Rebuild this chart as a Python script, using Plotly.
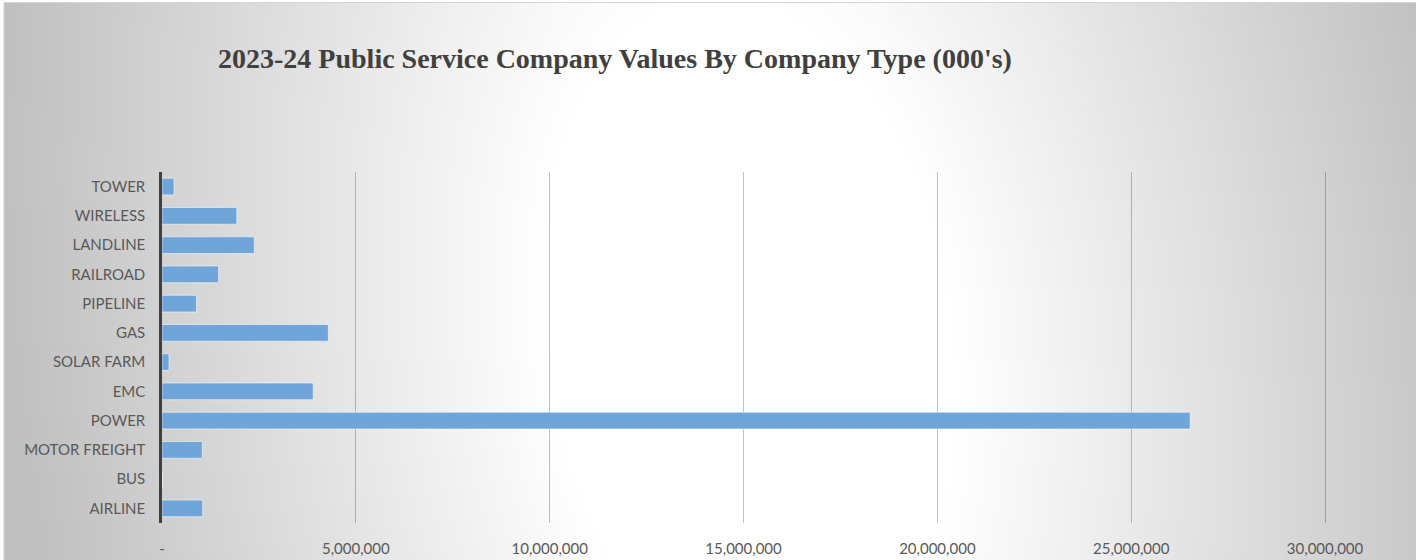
import base64
import plotly.graph_objects as go

categories = ["AIRLINE", "BUS", "MOTOR FREIGHT", "POWER", "EMC", "SOLAR FARM",
              "GAS", "PIPELINE", "RAILROAD", "LANDLINE", "WIRELESS", "TOWER"]
values = [1050000, 0, 1040000, 26520000, 3900000, 180000,
          4290000, 890000, 1460000, 2380000, 1930000, 310000]
tick_vals = [0, 5000000, 10000000, 15000000, 20000000, 25000000, 30000000]
tick_text = ["-", "5,000,000", "10,000,000", "15,000,000", "20,000,000", "25,000,000", "30,000,000"]
title_text = "2023-24 Public Service Company Values By Company Type (000's)"

W, H = 1416, 560
L, R, T, B = 162, W - 1327, 172, H - 523
pw, ph = W - L - R, H - T - B

cx, cy = 750, 340
svg = f'''<svg xmlns="http://www.w3.org/2000/svg" width="{W}" height="{H}" viewBox="0 0 {W} {H}" preserveAspectRatio="none">
<defs><radialGradient id="g" gradientUnits="userSpaceOnUse" cx="{cx}" cy="{cy}" r="740"
 gradientTransform="translate({cx},{cy}) rotate(-8) scale(1,1.7) translate({-cx},{-cy})">
<stop offset="0" stop-color="#ffffff"/><stop offset="0.27" stop-color="#ffffff"/>
<stop offset="1" stop-color="#bfbfbf"/></radialGradient></defs>
<rect x="0" y="0" width="{W}" height="{H}" fill="#ffffff"/>
<rect x="4" y="2.5" width="{W}" height="{H}" fill="url(#g)" stroke="#d4d4d4" stroke-width="1"/>
</svg>'''
src = "data:image/svg+xml;base64," + base64.b64encode(svg.encode()).decode()

fig = go.Figure(go.Bar(
    x=values, y=categories, orientation="h",
    marker=dict(color="#6fa5d8", line=dict(color="rgba(255,255,255,0.55)", width=1)),
))

fig.update_layout(
    width=W, height=H,
    margin=dict(l=L, r=R, t=T, b=B, autoexpand=False),
    paper_bgcolor="rgba(0,0,0,0)", plot_bgcolor="rgba(0,0,0,0)",
    bargap=0.43, showlegend=False,
    title=dict(text="<b>" + title_text + "</b>", xref="container", yref="container",
               x=615 / W, xanchor="center", y=1 - 58 / H, yanchor="middle",
               font=dict(family="Liberation Serif", size=28, color="#404040")),
    images=[dict(source=src, xref="paper", yref="paper", x=-L / pw, y=1 + T / ph,
                 sizex=W / pw, sizey=H / ph, xanchor="left", yanchor="top",
                 sizing="stretch", layer="below")],
    xaxis=dict(range=[0, 30050000], tickvals=tick_vals, ticktext=tick_text,
               showgrid=True, gridcolor="rgba(0,0,0,0.24)", gridwidth=1,
               zeroline=False, showline=False, ticks="", ticklabelstandoff=15,
               automargin=False,
               tickfont=dict(family="Lato", size=15, color="#595959"), fixedrange=True),
    yaxis=dict(type="category", categoryorder="array", categoryarray=categories,
               showgrid=False, zeroline=False, showline=True, linecolor="#404040",
               linewidth=2.5, ticks="", ticklabelstandoff=11, automargin=False,
               tickfont=dict(family="Lato", size=15, color="#595959"), fixedrange=True),
)

fig.write_html("out.html", config={"displayModeBar": False},
               post_script="document.body.style.margin='0';document.body.style.overflow='hidden';")
